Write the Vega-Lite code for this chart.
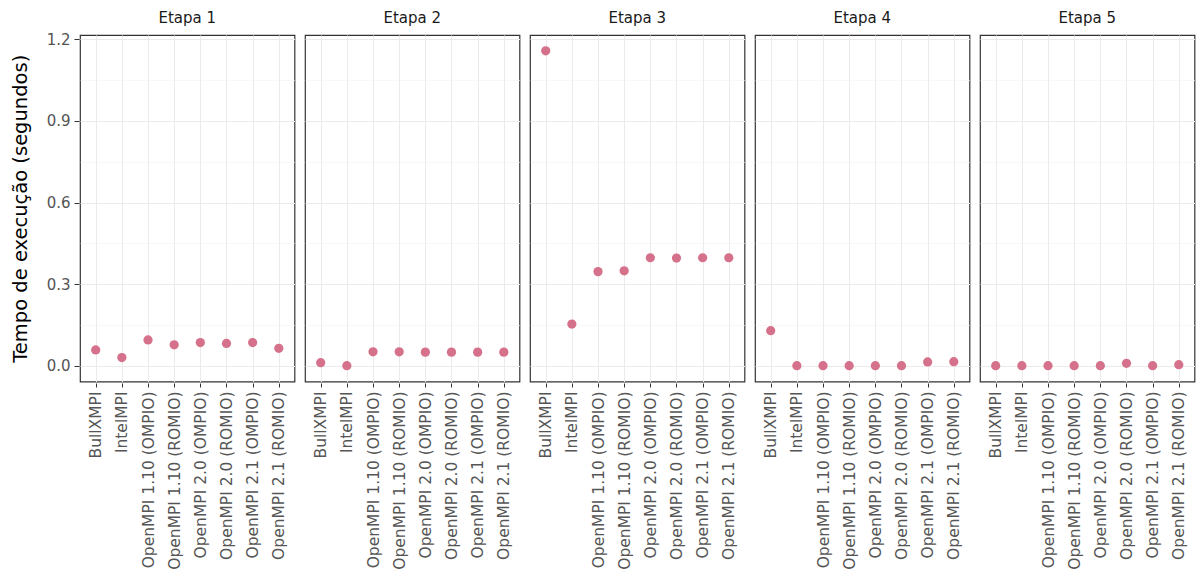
{
  "$schema": "https://vega.github.io/schema/vega-lite/v6.json",
  "background": "white",
  "padding": {"left": 10, "top": 11, "right": 4, "bottom": 0},
  "data": {"values": [
    {"etapa": "Etapa 1", "impl": "BullXMPI", "tempo": 0.058},
    {"etapa": "Etapa 1", "impl": "IntelMPI", "tempo": 0.030},
    {"etapa": "Etapa 1", "impl": "OpenMPI 1.10 (OMPIO)", "tempo": 0.095},
    {"etapa": "Etapa 1", "impl": "OpenMPI 1.10 (ROMIO)", "tempo": 0.077},
    {"etapa": "Etapa 1", "impl": "OpenMPI 2.0 (OMPIO)", "tempo": 0.085},
    {"etapa": "Etapa 1", "impl": "OpenMPI 2.0 (ROMIO)", "tempo": 0.082},
    {"etapa": "Etapa 1", "impl": "OpenMPI 2.1 (OMPIO)", "tempo": 0.085},
    {"etapa": "Etapa 1", "impl": "OpenMPI 2.1 (ROMIO)", "tempo": 0.064},
    {"etapa": "Etapa 2", "impl": "BullXMPI", "tempo": 0.011},
    {"etapa": "Etapa 2", "impl": "IntelMPI", "tempo": 0.0},
    {"etapa": "Etapa 2", "impl": "OpenMPI 1.10 (OMPIO)", "tempo": 0.051},
    {"etapa": "Etapa 2", "impl": "OpenMPI 1.10 (ROMIO)", "tempo": 0.051},
    {"etapa": "Etapa 2", "impl": "OpenMPI 2.0 (OMPIO)", "tempo": 0.050},
    {"etapa": "Etapa 2", "impl": "OpenMPI 2.0 (ROMIO)", "tempo": 0.050},
    {"etapa": "Etapa 2", "impl": "OpenMPI 2.1 (OMPIO)", "tempo": 0.050},
    {"etapa": "Etapa 2", "impl": "OpenMPI 2.1 (ROMIO)", "tempo": 0.050},
    {"etapa": "Etapa 3", "impl": "BullXMPI", "tempo": 1.158},
    {"etapa": "Etapa 3", "impl": "IntelMPI", "tempo": 0.153},
    {"etapa": "Etapa 3", "impl": "OpenMPI 1.10 (OMPIO)", "tempo": 0.346},
    {"etapa": "Etapa 3", "impl": "OpenMPI 1.10 (ROMIO)", "tempo": 0.349},
    {"etapa": "Etapa 3", "impl": "OpenMPI 2.0 (OMPIO)", "tempo": 0.397},
    {"etapa": "Etapa 3", "impl": "OpenMPI 2.0 (ROMIO)", "tempo": 0.396},
    {"etapa": "Etapa 3", "impl": "OpenMPI 2.1 (OMPIO)", "tempo": 0.397},
    {"etapa": "Etapa 3", "impl": "OpenMPI 2.1 (ROMIO)", "tempo": 0.397},
    {"etapa": "Etapa 4", "impl": "BullXMPI", "tempo": 0.129},
    {"etapa": "Etapa 4", "impl": "IntelMPI", "tempo": 0.0},
    {"etapa": "Etapa 4", "impl": "OpenMPI 1.10 (OMPIO)", "tempo": 0.0},
    {"etapa": "Etapa 4", "impl": "OpenMPI 1.10 (ROMIO)", "tempo": 0.0},
    {"etapa": "Etapa 4", "impl": "OpenMPI 2.0 (OMPIO)", "tempo": 0.0},
    {"etapa": "Etapa 4", "impl": "OpenMPI 2.0 (ROMIO)", "tempo": 0.0},
    {"etapa": "Etapa 4", "impl": "OpenMPI 2.1 (OMPIO)", "tempo": 0.014},
    {"etapa": "Etapa 4", "impl": "OpenMPI 2.1 (ROMIO)", "tempo": 0.015},
    {"etapa": "Etapa 5", "impl": "BullXMPI", "tempo": 0.0},
    {"etapa": "Etapa 5", "impl": "IntelMPI", "tempo": 0.0},
    {"etapa": "Etapa 5", "impl": "OpenMPI 1.10 (OMPIO)", "tempo": 0.0},
    {"etapa": "Etapa 5", "impl": "OpenMPI 1.10 (ROMIO)", "tempo": 0.0},
    {"etapa": "Etapa 5", "impl": "OpenMPI 2.0 (OMPIO)", "tempo": 0.0},
    {"etapa": "Etapa 5", "impl": "OpenMPI 2.0 (ROMIO)", "tempo": 0.009},
    {"etapa": "Etapa 5", "impl": "OpenMPI 2.1 (OMPIO)", "tempo": 0.0},
    {"etapa": "Etapa 5", "impl": "OpenMPI 2.1 (ROMIO)", "tempo": 0.004}
  ]},
  "facet": {
    "column": {
      "field": "etapa",
      "type": "nominal",
      "header": {
        "title": null,
        "labelFont": "DejaVu Sans",
        "labelFontSize": 15,
        "labelColor": "#1A1A1A",
        "labelPadding": 8
      }
    }
  },
  "spacing": 8,
  "spec": {
    "width": 214.5,
    "height": 346.5,
    "mark": {"type": "point", "filled": true, "opacity": 1, "size": 85, "color": "#D5718B"},
    "encoding": {
      "x": {
        "field": "impl",
        "type": "nominal",
        "scale": {"type": "point", "padding": 0.6},
        "axis": {
          "title": null,
          "labelAngle": 270,
          "labelAlign": "right",
          "labelBaseline": "middle",
          "labelFont": "DejaVu Sans",
          "labelFontSize": 15.5,
          "labelLimit": 0,
          "labelColor": "#555555",
          "labelPadding": 4,
          "tickColor": "#333333",
          "tickSize": 4,
          "domain": false,
          "grid": true,
          "gridColor": "#EBEBEB",
          "gridWidth": 1
        }
      },
      "y": {
        "field": "tempo",
        "type": "quantitative",
        "scale": {"domain": [-0.058, 1.216], "nice": false, "zero": false},
        "axis": {
          "title": "Tempo de execução (segundos)",
          "titleFont": "DejaVu Sans",
          "titleFontSize": 19.5,
          "titleFontWeight": "normal",
          "titleColor": "#000000",
          "titlePadding": 16,
          "values": [0, 0.15, 0.3, 0.45, 0.6, 0.75, 0.9, 1.05, 1.2],
          "labelExpr": "abs(datum.value*10/3 - round(datum.value*10/3)) < 0.01 ? format(datum.value, '.1f') : ''",
          "labelFont": "DejaVu Sans",
          "labelFontSize": 15,
          "labelColor": "#555555",
          "labelPadding": 4,
          "domain": false,
          "tickColor": {"condition": {"test": "abs(datum.value*10/3 - round(datum.value*10/3)) < 0.01", "value": "#333333"}, "value": "transparent"},
          "tickSize": 5,
          "grid": true,
          "gridColor": {"condition": {"test": "abs(datum.value*10/3 - round(datum.value*10/3)) < 0.01", "value": "#EBEBEB"}, "value": "#F4F4F4"},
          "gridWidth": {"condition": {"test": "abs(datum.value*10/3 - round(datum.value*10/3)) < 0.01", "value": 1}, "value": 0.6}
        }
      }
    }
  },
  "config": {
    "view": {"stroke": "#333333", "strokeWidth": 1.2},
    "font": "DejaVu Sans"
  }
}
